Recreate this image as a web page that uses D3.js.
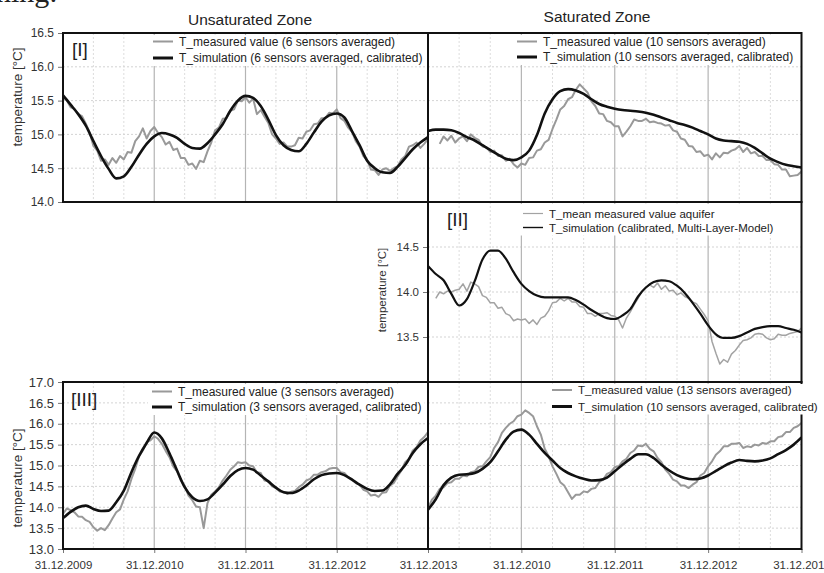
<!DOCTYPE html>
<html><head><meta charset="utf-8">
<script src="https://cdn.jsdelivr.net/npm/d3@7"></script>
<style>
body{margin:0;background:#fff}
svg{display:block;font-family:"Liberation Sans",Arial,Helvetica,sans-serif}
</style>
</head><body>
<svg id="chart" width="824" height="573"></svg>
<script>
// ---------------- data ----------------
const xLabelsLeft  = ["31.12.2009","31.12.2010","31.12.2011","31.12.2012","31.12.2013"];
const xLabelsRight = ["31.12.2010","31.12.2011","31.12.2012","31.12.2013"];
const yTicksTop     = [14.0,14.5,15.0,15.5,16.0,16.5];
const yTicksAquifer = [13.5,14.0,14.5];
const yTicksBottom  = [13.0,13.5,14.0,14.5,15.0,15.5,16.0,16.5,17.0];

// simulation: one value per month from 31.12.2009 to 31.12.2013 (49 values)
// measured:   one value per half month (97 values), null = no data
const simUnsatI = [15.58,15.44,15.30,15.13,14.90,14.68,14.49,14.35,14.38,14.52,14.70,14.86,14.97,15.02,15.00,14.95,14.86,14.80,14.79,14.87,15.00,15.15,15.35,15.50,15.57,15.54,15.42,15.22,14.99,14.84,14.77,14.75,14.86,15.03,15.19,15.28,15.31,15.25,15.05,14.84,14.61,14.50,14.44,14.43,14.52,14.65,14.78,14.88,14.96];
const measUnsatI = [15.55,15.50,15.40,15.38,15.30,15.27,15.16,15.03,14.83,14.76,
 14.61,14.63,14.55,14.65,14.58,14.68,14.63,14.74,14.73,14.90,
 14.97,15.09,14.94,15.05,15.11,15.02,14.96,14.85,14.89,14.77,
 14.79,14.65,14.65,14.55,14.57,14.49,14.61,14.59,14.75,14.88,
 15.06,15.10,15.23,15.24,15.35,15.37,15.50,15.49,15.55,15.47,
 15.53,15.30,15.36,15.26,15.17,15.00,14.94,14.86,14.88,14.82,
 14.82,14.84,14.95,14.94,15.04,15.06,15.15,15.16,15.24,15.24,
 15.32,15.31,15.37,15.24,15.20,15.10,15.04,14.90,14.82,14.68,
 14.62,14.48,14.47,14.40,14.48,14.50,14.46,14.50,14.53,14.63,
 14.68,14.82,14.84,14.88,14.80,14.86,14.93];

const simSatI = [15.05,15.07,15.07,15.06,15.02,14.96,14.91,14.84,14.77,14.70,14.64,14.62,14.66,14.76,14.99,15.31,15.52,15.64,15.67,15.65,15.60,15.52,15.45,15.41,15.38,15.36,15.35,15.34,15.32,15.29,15.25,15.21,15.17,15.14,15.10,15.05,15.00,14.94,14.91,14.90,14.89,14.86,14.80,14.72,14.64,14.59,14.55,14.53,14.51];
const measSatI = [null,null,null,14.86,14.97,14.91,14.98,14.88,14.94,14.97,
 14.90,15.00,14.95,14.92,14.82,14.81,14.74,14.76,14.68,14.69,
 14.61,14.64,14.56,14.51,14.57,14.55,14.65,14.66,14.76,14.78,
 14.88,14.92,15.08,15.22,15.37,15.42,15.52,15.55,15.66,15.74,
 15.68,15.62,15.49,15.42,15.31,15.30,15.20,15.18,15.12,15.12,
 14.97,15.04,15.12,15.22,15.20,15.20,15.23,15.18,15.19,15.17,
 15.16,15.13,15.14,15.06,15.04,14.94,14.92,14.83,14.82,14.74,
 14.75,14.68,14.70,14.63,14.72,14.66,14.73,14.72,14.76,14.78,
 14.83,14.74,14.80,14.72,14.74,14.68,14.68,14.62,14.62,14.56,
 14.55,14.48,14.48,14.38,14.39,14.40,14.45];

const simAquifer = [14.29,14.20,14.13,13.98,13.85,13.92,14.12,14.36,14.46,14.46,14.37,14.22,14.09,14.01,13.96,13.94,13.94,13.94,13.94,13.91,13.86,13.80,13.75,13.71,13.70,13.74,13.81,13.95,14.05,14.11,14.13,14.12,14.07,13.99,13.88,13.76,13.63,13.53,13.49,13.49,13.51,13.55,13.59,13.61,13.62,13.62,13.60,13.58,13.55];
const measAquifer = [null,null,13.93,14.00,13.98,14.01,14.00,14.02,14.03,14.09,
 14.01,14.11,14.09,14.06,13.96,13.94,13.88,13.88,13.82,13.83,
 13.76,13.74,13.68,13.70,13.69,13.70,13.65,13.69,13.64,13.71,
 13.73,13.79,13.88,13.89,13.93,13.90,13.93,13.89,13.89,13.84,
 13.83,13.76,13.76,13.73,13.76,13.76,13.77,13.74,13.73,13.69,
 13.60,13.71,13.78,13.86,13.93,14.01,14.05,14.08,14.05,14.10,
 14.03,14.07,14.01,14.02,13.97,13.99,13.95,13.93,13.89,13.87,
 13.81,13.75,13.68,13.45,13.32,13.20,13.25,13.22,13.31,13.35,
 13.41,13.46,13.47,13.49,13.53,13.54,13.53,13.49,13.47,13.48,
 13.53,13.52,13.52,13.54,13.55,13.56,13.60];

const simUnsatIII = [13.74,13.89,14.00,14.04,13.96,13.91,13.92,14.12,14.40,14.84,15.23,15.54,15.79,15.65,15.29,14.88,14.48,14.24,14.15,14.19,14.35,14.54,14.75,14.89,14.94,14.90,14.76,14.62,14.47,14.36,14.34,14.40,14.52,14.67,14.77,14.81,14.82,14.77,14.66,14.54,14.44,14.39,14.40,14.55,14.80,15.01,15.30,15.51,15.66];
const measUnsatIII = [13.84,13.97,13.93,13.88,13.78,13.77,13.69,13.65,13.52,13.44,
 13.50,13.45,13.57,13.73,13.88,13.95,14.19,14.38,14.68,14.92,
 15.22,15.36,15.56,15.60,15.70,15.64,15.52,15.35,15.20,14.98,
 14.86,14.64,14.52,14.28,14.17,14.02,14.00,13.50,14.10,14.30,
 14.38,14.48,14.64,14.76,14.90,14.98,15.08,15.06,15.08,15.00,
 14.98,14.84,14.82,14.64,14.62,14.50,14.46,14.38,14.37,14.32,
 14.37,14.39,14.48,14.54,14.64,14.68,14.78,14.78,14.84,14.86,
 14.92,14.94,14.94,14.84,14.82,14.72,14.68,14.58,14.54,14.42,
 14.38,14.28,14.30,14.25,14.35,14.36,14.52,14.58,14.74,14.88,
 15.08,15.16,15.36,15.44,15.60,15.68,15.80];

const simSatIII = [13.94,14.19,14.53,14.71,14.78,14.79,14.82,14.92,15.08,15.34,15.62,15.81,15.86,15.74,15.52,15.30,15.12,14.94,14.82,14.74,14.68,14.64,14.65,14.71,14.86,15.02,15.16,15.27,15.27,15.18,15.02,14.88,14.77,14.70,14.67,14.69,14.76,14.87,14.98,15.07,15.13,15.11,15.10,15.12,15.17,15.27,15.37,15.50,15.67];
const measSatIII = [13.98,14.18,14.28,14.44,14.48,14.58,14.60,14.68,14.68,14.76,
 14.74,14.84,14.86,14.97,14.98,15.10,15.20,15.42,15.56,15.78,
 15.90,16.00,16.06,16.18,16.22,16.32,16.26,16.18,15.94,15.74,
 15.40,15.22,14.98,14.80,14.60,14.52,14.36,14.20,14.30,14.30,
 14.38,14.36,14.44,14.46,14.60,14.66,14.80,14.84,14.96,14.98,
 15.10,15.16,15.30,15.36,15.48,15.46,15.52,15.40,15.34,15.18,
 15.08,14.90,14.80,14.66,14.62,14.52,14.52,14.46,14.54,14.60,
 14.76,14.82,14.98,15.10,15.26,15.34,15.46,15.46,15.52,15.52,
 15.54,15.42,15.46,15.44,15.50,15.48,15.54,15.52,15.58,15.58,
 15.68,15.70,15.80,15.80,15.90,15.94,16.02];

// ---------------- layout ----------------
const svg = d3.select("#chart");
const GREY = "#999", BLACK = "#111";
const xL = d3.scaleLinear([0,4],[63,428]);
const xR = d3.scaleLinear([0,4],[428,801.5]);
const yTop = d3.scaleLinear([14,16.5],[202,33]);
const yAq  = d3.scaleLinear([13,15],[382,202]);
const yBot = d3.scaleLinear([13,17],[549,382]);

const panels = [
  {id:"p1", x:xL, y:yTop, ticks:yTicksTop, sim:simUnsatI, meas:measUnsatI, mw:2, sw:2.6, mc:GREY,
   label:"[I]", lx:72, ly:56,
   legend:{x:153, y:41.5, dy:16.5, fs:12, items:[["T_measured value (6 sensors averaged)",GREY,2],["T_simulation (6 sensors averaged, calibrated)",BLACK,3]]}},
  {id:"p2", x:xR, y:yTop, ticks:yTicksTop, sim:simSatI, meas:measSatI, mw:2, sw:2.6, mc:GREY,
   legend:{x:517, y:41.5, dy:15.5, fs:12, items:[["T_measured value (10 sensors averaged)",GREY,2],["T_simulation (10 sensors averaged, calibrated)",BLACK,3]]}},
  {id:"p3", x:xR, y:yAq, ticks:yTicksAquifer, sim:simAquifer, meas:measAquifer, mw:1.5, sw:2.2, mc:"#a3a3a3",
   label:"[II]", lx:447, ly:226,
   legend:{x:523, y:213.5, dy:14, fs:11.5, items:[["T_mean measured value aquifer","#a3a3a3",1.2],["T_simulation (calibrated, Multi-Layer-Model)",BLACK,1.4]]}},
  {id:"p4", x:xL, y:yBot, ticks:yTicksBottom, sim:simUnsatIII, meas:measUnsatIII, mw:2, sw:2.6, mc:GREY,
   label:"[III]", lx:71, ly:406,
   legend:{x:152, y:391.5, dy:15.5, fs:12, items:[["T_measured value (3 sensors averaged)",GREY,2],["T_simulation (3 sensors averaged, calibrated)",BLACK,3]]}},
  {id:"p5", x:xR, y:yBot, ticks:yTicksBottom, sim:simSatIII, meas:measSatIII, mw:2, sw:2.6, mc:GREY,
   legend:{x:552, y:390, dy:16.5, fs:11.5, items:[["T_measured value (13 sensors averaged)",GREY,2],["T_simulation (10 sensors averaged, calibrated)",BLACK,3]]}}
];

const defs = svg.append("defs");

// document text fragment at the very top
svg.append("text").attr("x",-4).attr("y",2)
  .attr("font-family","'Liberation Serif','Times New Roman',serif")
  .attr("font-size",30).attr("fill","#222").text("ning:");

// titles
svg.append("text").attr("x",250).attr("y",24.5).attr("text-anchor","middle")
  .attr("font-size",15.5).attr("fill","#222").text("Unsaturated Zone");
svg.append("text").attr("x",597).attr("y",21.5).attr("text-anchor","middle")
  .attr("font-size",15.5).attr("fill","#222").text("Saturated Zone");

const minorT = d3.range(0,12).map(i=>i/3).filter(t=>Math.abs(t-Math.round(t))>1e-6);
const majorT = [1,2,3];

panels.forEach(p=>{
  const [x0,x1] = p.x.range();
  const [y1,y0] = p.y.range();
  const g = svg.append("g");
  defs.append("clipPath").attr("id","clip-"+p.id)
    .append("rect").attr("x",x0).attr("y",y0).attr("width",x1-x0).attr("height",y1-y0);
  // grid
  g.selectAll(".hg").data(p.ticks.filter(v=>v>p.y.domain()[0] && v<p.y.domain()[1])).join("line")
    .attr("x1",x0).attr("x2",x1).attr("y1",d=>p.y(d)).attr("y2",d=>p.y(d))
    .attr("stroke","#c8c8c8").attr("stroke-width",0.8).attr("stroke-dasharray","2,2");
  g.selectAll(".mg").data(minorT).join("line")
    .attr("x1",d=>p.x(d)).attr("x2",d=>p.x(d)).attr("y1",y0).attr("y2",y1)
    .attr("stroke","#d4d4d4").attr("stroke-width",0.8).attr("stroke-dasharray","2,2");
  g.selectAll(".Mg").data(majorT).join("line")
    .attr("x1",d=>p.x(d)).attr("x2",d=>p.x(d)).attr("y1",y0).attr("y2",y1)
    .attr("stroke","#b4b4b4").attr("stroke-width",1.2);
  // series
  const lg = g.append("g").attr("clip-path","url(#clip-"+p.id+")");
  const line = d3.line().defined(d=>d[1]!=null).x(d=>p.x(d[0])).y(d=>p.y(d[1]));
  lg.append("path").datum(p.meas.map((v,i)=>[i/24,v]))
    .attr("d",line.curve(d3.curveLinear)).attr("fill","none")
    .attr("stroke",p.mc).attr("stroke-width",p.mw).attr("stroke-linejoin","round");
  lg.append("path").datum(p.sim.map((v,i)=>[i/12,v]))
    .attr("d",line.curve(d3.curveMonotoneX)).attr("fill","none")
    .attr("stroke",BLACK).attr("stroke-width",p.sw).attr("stroke-linejoin","round");
});

// y axes
function yAxis(scale, ticks, xpos, fs){
  const a = svg.append("g").attr("transform",`translate(${xpos},0)`)
    .call(d3.axisLeft(scale).tickValues(ticks).tickFormat(d3.format(".1f")).tickSize(5).tickPadding(4));
  a.select(".domain").remove();
  a.selectAll("line").attr("stroke","#777");
  a.selectAll("text").attr("font-size",fs).attr("fill","#333").attr("font-family","'Liberation Sans',Arial,sans-serif");
}
yAxis(yTop, yTicksTop, 63, 12);
yAxis(yAq, yTicksAquifer, 428, 11.5);
yAxis(yBot, yTicksBottom, 63, 13);

function yTitle(x,y,fs){
  svg.append("text").attr("transform",`translate(${x},${y}) rotate(-90)`)
    .attr("text-anchor","middle").attr("font-size",fs).attr("fill","#333").text("temperature [°C]");
}
yTitle(22,97,13.5);
yTitle(386,290,11.5);
yTitle(22,478,13.5);

// x axes
function xAxis(scale, vals, labels){
  const a = svg.append("g").attr("transform","translate(0,549)")
    .call(d3.axisBottom(scale).tickValues(vals).tickFormat((d,i)=>labels[i]).tickSize(4).tickPadding(8));
  a.select(".domain").remove();
  a.selectAll("line").attr("stroke","#777");
  a.selectAll("text").attr("font-size",11.5).attr("fill","#333").attr("font-family","'Liberation Sans',Arial,sans-serif");
}
xAxis(xL,[0,1,2,3,4],xLabelsLeft);
xAxis(xR,[1,2,3,4],xLabelsRight);

// panel borders
panels.forEach(p=>{
  const [x0,x1] = p.x.range();
  const [y1,y0] = p.y.range();
  svg.append("rect").attr("x",x0).attr("y",y0).attr("width",x1-x0).attr("height",y1-y0)
    .attr("fill","none").attr("stroke","#111").attr("stroke-width",2);
});

// labels + legends
panels.forEach(p=>{
  if(p.label) svg.append("text").attr("x",p.lx).attr("y",p.ly).attr("font-size",19).attr("fill","#222").text(p.label);
  const L = p.legend;
  const lgG = svg.append("g");
  const bg = lgG.append("rect").attr("fill","#fff");
  let maxX = 0;
  L.items.forEach((it,i)=>{
    const yy = L.y + i*L.dy;
    lgG.append("line").attr("x1",L.x).attr("x2",L.x+20).attr("y1",yy).attr("y2",yy)
      .attr("stroke",it[1]).attr("stroke-width",it[2]);
    const t = lgG.append("text").attr("x",L.x+26).attr("y",yy+4.2).attr("font-size",L.fs).attr("fill","#222").text(it[0]);
    const bb = t.node().getBBox();
    maxX = Math.max(maxX, bb.x+bb.width);
  });
  const top = p.y.range()[1]+2;
  bg.attr("x",L.x-4).attr("y",top).attr("width",maxX+3-(L.x-4)).attr("height",L.y+(L.items.length-1)*L.dy+8-top);
});
</script>
</body></html>
